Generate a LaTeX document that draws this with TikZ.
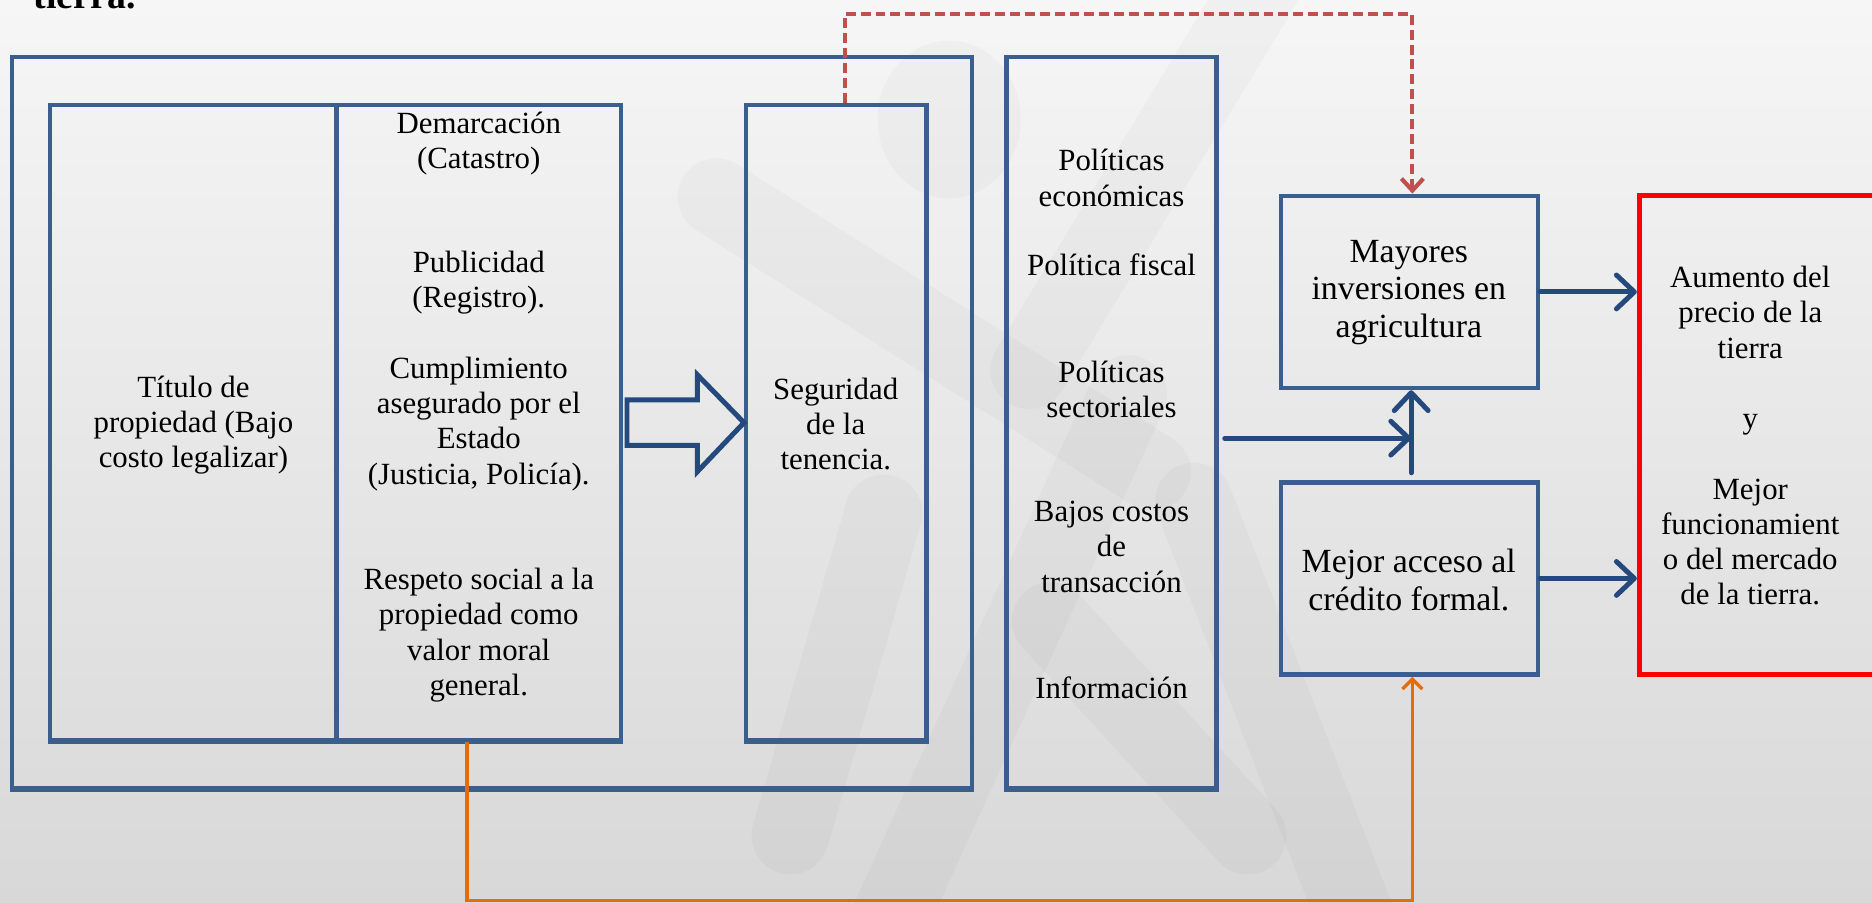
\documentclass[tikz,border=0pt]{standalone}
\usepackage{fontspec}
\setmainfont{Liberation Serif}
\usetikzlibrary{arrows.meta,fit,calc}
\definecolor{boxblue}{HTML}{3A5F8E}
\definecolor{arrblue}{HTML}{24497D}
\definecolor{orangeL}{HTML}{E46C0A}
\definecolor{redD}{HTML}{C0504D}
\definecolor{redB}{HTML}{FF0000}
\definecolor{bgtop}{HTML}{F6F6F6}
\definecolor{bgbot}{HTML}{D8D8D8}
\begin{document}
\begin{tikzpicture}[x=0.6pt,y=-0.6pt,
 box/.style={draw=boxblue,line width=2.2pt,inner sep=0pt},
 redbox/.style={draw=redB,line width=2.4pt,inner sep=0pt},
 txt/.style={align=center,inner sep=0pt,font=\fontsize{15.5}{17.7}\selectfont},
 bigtxt/.style={align=center,inner sep=0pt,font=\fontsize{17}{19}\selectfont},
 barrow/.style={draw=arrblue,line width=2.5pt,line cap=round,-{Straight Barb[length=9pt,width=17pt,round]}},
 oarrow/.style={draw=orangeL,line width=1.7pt,-{Straight Barb[length=5pt,width=10pt]}},
 rdash/.style={draw=redD,line width=2.1pt,dash pattern=on 5pt off 2.5pt,-{Straight Barb[length=6pt,width=11pt]}},
 blockarr/.style={draw=arrblue,line width=2.5pt,line join=miter},
 shadowline/.style={draw=boxblue,line width=2pt},
 wm/.style={draw=black,draw opacity=0.025,line width=39pt,line cap=round}
]
\useasboundingbox (0,0) rectangle (1568,756);
\clip (0,0) rectangle (1568,756);
\shade[top color=bgtop,bottom color=bgbot] (0,0) rectangle (1568,756);
% watermark
\fill[black,opacity=0.025] (795,100) ellipse [x radius=60,y radius=66];
\draw[wm] (1068,-30) -- (862,310);
\draw[wm] (600,165) -- (965,395);
\draw[wm] (945,330) -- (745,770);
\draw[wm] (740,430) -- (662,700);
\draw[wm] (880,520) -- (1045,700);
\draw[wm] (1000,420) -- (1140,780);
% title fragment
\node[anchor=base west,inner sep=0pt,font=\bfseries\fontsize{19}{21}\selectfont] (title) at (28,7.5) {tierra.};
% boxes
\node[box,fit={(10,48) (814,660)}] (outer) {};
\node[box,fit={(42,88) (282,620)}] (ta) {};
\node[box,fit={(282,88) (520,620)}] (tb) {};
\node[box,fit={(625,88) (776,620)}] (seg) {};
\node[box,fit={(843,48) (1019,660)}] (pol) {};
\node[box,fit={(1073,164) (1288,325)}] (may) {};
\node[box,fit={(1073,404) (1288,565)}] (mej) {};
\node[redbox,fit={(1373,164) (1610,565)}] (res) {};
\foreach \n in {outer,ta,tb,seg,pol}
  \draw[shadowline] (\n.south west) -- (\n.south east);
% texts
\node[txt] (t1) at (162,356) {Título de\\propiedad (Bajo\\costo legalizar)};
\node[txt] (t2) at (401,120) {Demarcación\\(Catastro)};
\node[txt] (t3) at (401,237) {Publicidad\\(Registro).};
\node[txt] (t4) at (401,355) {Cumplimiento\\asegurado por el\\Estado\\(Justicia, Policía).};
\node[txt] (t5) at (401,532) {Respeto social a la\\propiedad como\\valor moral\\general.};
\node[txt] (t6) at (700,355) {Seguridad\\de la\\tenencia.};
\node[txt] (p1) at (931,149) {Políticas\\económicas};
\node[txt] (p2) at (931,222) {Política fiscal};
\node[txt] (p3) at (931,326) {Políticas\\sectoriales};
\node[txt] (p4) at (931,458) {Bajos costos\\de\\transacción};
\node[txt] (p5) at (931,576) {Información};
\node[bigtxt] (m1) at (1180,245) {Mayores\\inversiones en\\agricultura};
\node[bigtxt] (m2) at (1180,486) {Mejor acceso al\\crédito formal.};
\node[txt] (r1) at (1466,365) {Aumento del\\precio de la\\tierra\\[17.7pt]y\\[17.7pt]Mejor\\funcionamient\\o del mercado\\de la tierra.};
% block arrow
\draw[blockarr] (seg.west) -- ++(-39,-40) -- ++(0,21) -- ++(-59,0) -- ++(0,38) -- ++(59,0) -- ++(0,22) -- cycle;
% connectors
\coordinate (jn) at (1182,396);
\coordinate (jm) at (1182,367);
\draw[barrow] ($(pol.east |- jm)+(5,0)$) -- (jm);
\draw[barrow] (jn) -- (jn |- may.south);
\draw[barrow] (may.east) -- (may.east -| res.west);
\draw[barrow] (mej.east) -- (mej.east -| res.west);
\coordinate (ob) at (1183,754);
\draw[oarrow] ($(tb.south)+(-10,0)$) |- (ob) -- (ob |- mej.south);
\coordinate (rt) at (1183,12);
\draw[rdash] ($(seg.north)+(7,0)$) |- (rt) -- (rt |- may.north);
\end{tikzpicture}
\end{document}
